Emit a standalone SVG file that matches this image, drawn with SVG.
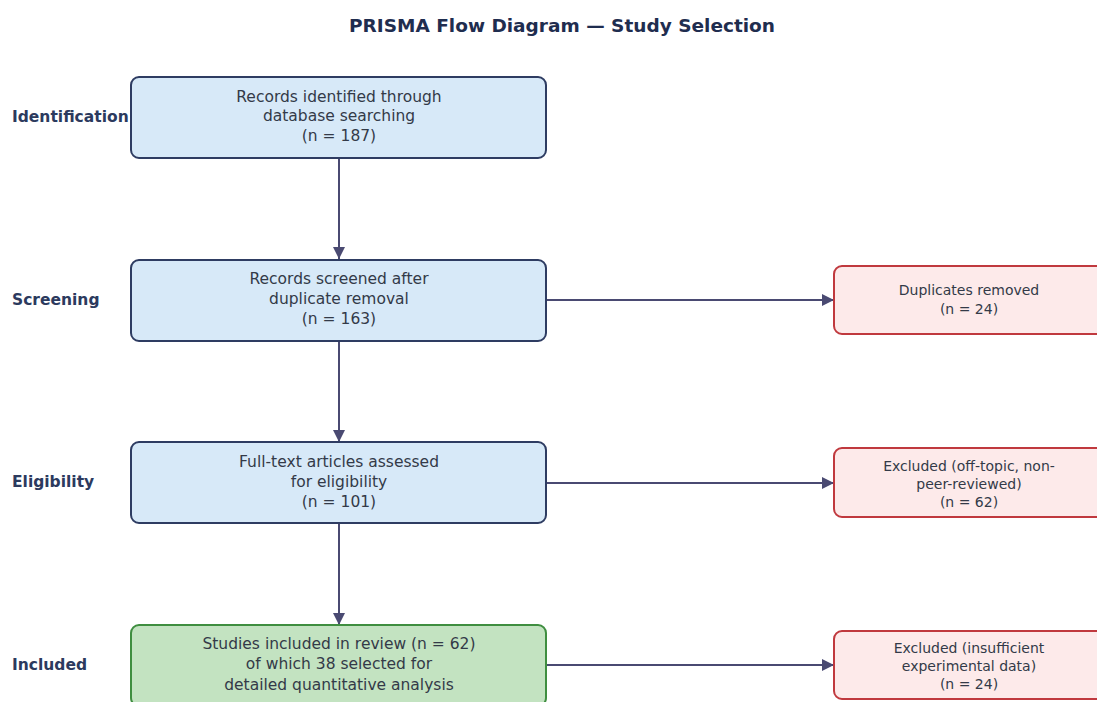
<svg xmlns="http://www.w3.org/2000/svg" width="1097" height="702" viewBox="0 0 1097 702">
<style>
.title{font-family:"DejaVu Sans",sans-serif;font-weight:bold;font-size:18.5px;fill:#1f2d4f;text-anchor:middle}
.stage{font-family:"DejaVu Sans",sans-serif;font-weight:bold;font-size:15.5px;fill:#2c3a5e;dominant-baseline:central}
.t{font-family:"DejaVu Sans",sans-serif;font-size:15.5px;fill:#333a48;text-anchor:middle;dominant-baseline:central}
.ts{font-family:"DejaVu Sans",sans-serif;font-size:14px;fill:#333a48;text-anchor:middle;dominant-baseline:central}
.blue{fill:#d7e9f8;stroke:#2e3c62;stroke-width:2}
.green{fill:#c3e3c1;stroke:#3f8e40;stroke-width:2}
.red{fill:#fdeaea;stroke:#c0393e;stroke-width:2}
.conn{stroke:#4a4a72;stroke-width:2;fill:none}
</style>
<defs>
<marker id="ah2" viewBox="0 0 12 12" refX="12" refY="6" markerWidth="12" markerHeight="12" markerUnits="userSpaceOnUse" orient="auto">
<path d="M0,0 L12,6 L0,12 z" fill="#4a4a72"/>
</marker>
</defs>
<rect width="1097" height="702" fill="#ffffff"/>
<text class="title" x="562" y="32">PRISMA Flow Diagram — Study Selection</text>

<text class="stage" x="12" y="117">Identification</text>
<text class="stage" x="12" y="300">Screening</text>
<text class="stage" x="12" y="482">Eligibility</text>
<text class="stage" x="12" y="665">Included</text>

<g id="connectors">
<line class="conn" x1="339" y1="158" x2="339" y2="259" marker-end="url(#ah2)"/>
<line class="conn" x1="339" y1="341" x2="339" y2="442" marker-end="url(#ah2)"/>
<line class="conn" x1="339" y1="523" x2="339" y2="625" marker-end="url(#ah2)"/>
<line class="conn" x1="546" y1="300" x2="834" y2="300" marker-end="url(#ah2)"/>
<line class="conn" x1="546" y1="483" x2="834" y2="483" marker-end="url(#ah2)"/>
<line class="conn" x1="546" y1="665" x2="834" y2="665" marker-end="url(#ah2)"/>
</g>

<g id="identification">
<rect class="blue" x="131" y="77" width="415" height="81" rx="8"/>
<text class="t" x="339" y="97">Records identified through</text>
<text class="t" x="339" y="116">database searching</text>
<text class="t" x="339" y="136">(n = 187)</text>
</g>
<g id="screening">
<rect class="blue" x="131" y="260" width="415" height="81" rx="8"/>
<text class="t" x="339" y="279">Records screened after</text>
<text class="t" x="339" y="299">duplicate removal</text>
<text class="t" x="339" y="319">(n = 163)</text>
</g>
<g id="eligibility">
<rect class="blue" x="131" y="442" width="415" height="81" rx="8"/>
<text class="t" x="339" y="462">Full-text articles assessed</text>
<text class="t" x="339" y="482">for eligibility</text>
<text class="t" x="339" y="502">(n = 101)</text>
</g>
<g id="included">
<rect class="green" x="131" y="625" width="415" height="81" rx="8"/>
<text class="t" x="339" y="644">Studies included in review (n = 62)</text>
<text class="t" x="339" y="664">of which 38 selected for</text>
<text class="t" x="339" y="685">detailed quantitative analysis</text>
</g>
<g id="duplicates">
<rect class="red" x="834" y="266" width="275" height="68" rx="8"/>
<text class="ts" x="969" y="290">Duplicates removed</text>
<text class="ts" x="969" y="309">(n = 24)</text>
</g>
<g id="excluded-offtopic">
<rect class="red" x="834" y="448" width="275" height="69" rx="8"/>
<text class="ts" x="969" y="466">Excluded (off-topic, non-</text>
<text class="ts" x="969" y="484">peer-reviewed)</text>
<text class="ts" x="969" y="502">(n = 62)</text>
</g>
<g id="excluded-insufficient">
<rect class="red" x="834" y="631" width="275" height="68" rx="8"/>
<text class="ts" x="969" y="648">Excluded (insufficient</text>
<text class="ts" x="969" y="666">experimental data)</text>
<text class="ts" x="969" y="684">(n = 24)</text>
</g>
</svg>
